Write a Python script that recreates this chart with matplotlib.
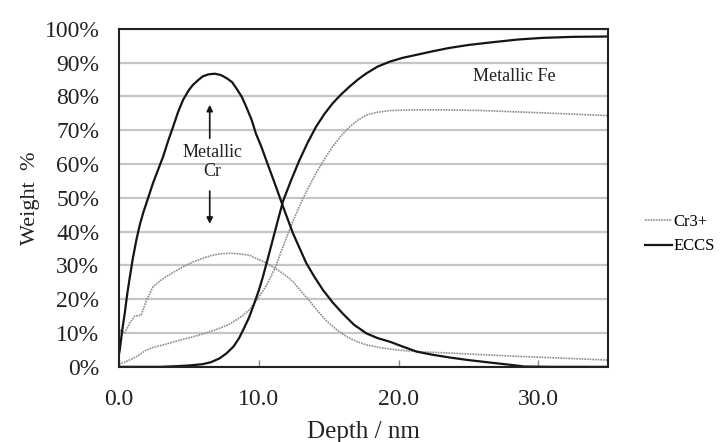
import numpy as np
import matplotlib.pyplot as plt

plt.rcParams["font.family"] = ["Liberation Serif", "DejaVu Serif"]

# depth profiles, nm vs weight %
eccs_cr_x = [0.0, 0.07, 0.25, 0.43, 0.6, 0.79, 1.0, 1.26, 1.5, 1.74, 2.1, 2.45, 2.8, 3.17,
             3.5, 3.88, 4.25, 4.6, 5.0, 5.3, 5.7, 6.0, 6.4, 6.86, 7.3, 7.7, 8.1, 8.4,
             8.8, 9.1, 9.5, 9.8, 10.2, 10.55, 10.8, 11.26, 11.74, 12.45, 13.4, 14.0,
             14.6, 15.3, 16.0, 16.8, 17.7, 18.5, 19.4, 20.3, 21.3, 22.4, 23.6, 25.0,
             26.7, 28.0, 29.0, 31.0, 35.0]
eccs_cr_y = [3.5, 5.0, 11.0, 16.0, 21.5, 26.6, 32.0, 37.6, 42.0, 45.5, 50.0, 54.4, 58.2,
             62.2, 66.5, 71.0, 75.5, 79.0, 81.8, 83.4, 84.9, 85.9, 86.5, 86.7, 86.3,
             85.4, 84.2, 82.4, 79.8, 77.0, 73.0, 69.0, 65.0, 61.0, 58.2, 53.0, 47.4,
             39.5, 30.7, 26.5, 22.7, 19.0, 15.8, 12.5, 9.9, 8.5, 7.4, 6.0, 4.5, 3.6,
             2.8, 2.0, 1.2, 0.6, 0.1, 0.0, 0.0]

eccs_fe_x = [0.0, 3.0, 4.1, 5.0, 6.0, 6.6, 7.2, 7.7, 8.2, 8.6, 8.9, 9.3, 9.6, 10.0, 10.3,
             10.65, 11.0, 11.35, 11.74, 12.3, 12.9, 13.5, 14.1, 14.7, 15.3, 15.9, 16.5,
             17.1, 17.7, 18.5, 19.4, 20.3, 21.3, 22.4, 23.6, 25.0, 26.7, 28.5, 30.3,
             32.5, 35.0]
eccs_fe_y = [0.0, 0.0, 0.2, 0.4, 0.8, 1.4, 2.5, 4.0, 6.0, 8.5, 11.0, 14.5, 17.8, 22.5,
             26.6, 32.0, 37.5, 43.0, 49.0, 55.0, 61.0, 66.3, 71.0, 74.8, 78.0, 80.6,
             82.9, 85.0, 86.8, 88.8, 90.3, 91.4, 92.3, 93.3, 94.3, 95.2, 96.0, 96.8,
             97.3, 97.6, 97.7]

cr3_cr_x = [0.0, 0.07, 0.25, 0.43, 0.79, 1.14, 1.6, 1.98, 2.45, 2.9, 3.4, 4.0, 4.6, 5.3,
            6.0, 6.6, 7.2, 7.9, 8.64, 9.36, 9.8, 10.4, 11.0, 11.6, 12.1, 12.45, 13.0,
            13.64, 14.2, 14.8, 15.5, 16.3, 17.0, 17.7, 18.8, 20.1, 21.8, 23.6, 26.0,
            28.5, 31.0, 35.0]
cr3_cr_y = [8.0, 11.0, 10.5, 10.0, 13.0, 15.0, 15.3, 19.7, 23.7, 25.3, 26.7, 28.2, 29.6,
            31.0, 32.1, 32.9, 33.4, 33.6, 33.4, 33.0, 32.1, 31.0, 29.6, 28.0, 26.5,
            25.2, 22.5, 19.5, 16.6, 13.8, 11.2, 8.9, 7.5, 6.5, 5.6, 4.9, 4.4, 4.1,
            3.6, 3.1, 2.7, 2.0]

cr3_fe_x = [0.0, 0.5, 1.26, 1.98, 2.5, 3.17, 4.2, 5.3, 6.3, 7.2, 7.9, 8.4, 8.9, 9.36,
            9.9, 10.55, 11.2, 11.74, 12.3, 12.9, 13.5, 14.1, 14.7, 15.3, 15.9, 16.5,
            17.1, 17.7, 18.5, 19.4, 21.0, 23.6, 26.0, 28.5, 31.0, 35.0]
cr3_fe_y = [0.8, 1.5, 3.0, 5.0, 5.8, 6.5, 7.7, 8.9, 10.1, 11.4, 12.6, 13.9, 15.3, 17.0,
            20.0, 24.0, 29.5, 35.6, 41.6, 47.4, 52.6, 57.3, 61.4, 65.2, 68.4, 71.0,
            73.0, 74.5, 75.3, 75.8, 76.0, 76.0, 75.8, 75.4, 75.0, 74.3]

x_ticks = [0, 10, 20, 30]
y_ticks = list(range(0, 101, 10))

fig = plt.figure(figsize=(7.2, 4.42), dpi=100)
ax = fig.add_axes([0.165, 0.170, 0.680, 0.765])

ax.set_axisbelow(True)
ax.yaxis.grid(True, color="#c6c6c6", linewidth=1.6)

dot_style = dict(color="#8c8c8c", linestyle=(0, (1, 0.6)), linewidth=1.2)
solid_style = dict(color="#151515", linewidth=1.6)

cr3_line, = ax.plot(cr3_cr_x, cr3_cr_y, label="Cr3+", **dot_style)
ax.plot(cr3_fe_x, cr3_fe_y, **dot_style)
eccs_line, = ax.plot(eccs_cr_x, eccs_cr_y, label="ECCS", **solid_style)
ax.plot(eccs_fe_x, eccs_fe_y, **solid_style)

ax.set_xlim(0, 35)
ax.set_ylim(0, 100)
ax.set_xticks(x_ticks)
ax.set_xticklabels([f"{t:.1f}" for t in x_ticks])
ax.set_yticks(y_ticks)
ax.set_yticklabels([f"{t}%" for t in y_ticks])
ax.tick_params(axis="x", direction="in", length=5, width=1, color="#888888",
               labelsize=17, pad=16, labelcolor="#222222")
ax.tick_params(axis="y", length=0, labelsize=17, pad=14, labelcolor="#222222")
for side in ax.spines.values():
    side.set_linewidth(1.5)
    side.set_color("#222222")

ax.set_xlabel("Depth / nm", fontsize=18, labelpad=8, color="#222222")
ax.set_ylabel("Weight  %", fontsize=16, labelpad=3, color="#222222")

ax.text(6.7, 60.5, "Metallic\nCr", ha="center", va="center", fontsize=13,
        linespacing=1.15, color="#222222")
arrow = dict(arrowstyle="-|>", color="#151515", lw=1.2, mutation_scale=9,
             shrinkA=0, shrinkB=0)
ax.annotate("", xy=(6.5, 77.5), xytext=(6.5, 67.6), arrowprops=arrow)
ax.annotate("", xy=(6.5, 42.3), xytext=(6.5, 52.0), arrowprops=arrow)
ax.text(28.3, 85.8, "Metallic Fe", ha="center", va="center", fontsize=13,
        color="#222222")

fig.legend(handles=[cr3_line, eccs_line], loc="center left",
           bbox_to_anchor=(0.875, 0.470), frameon=False, fontsize=12,
           handlelength=1.6, handletextpad=0.1, labelspacing=0.5)

fig.savefig("out.png", dpi=100)
